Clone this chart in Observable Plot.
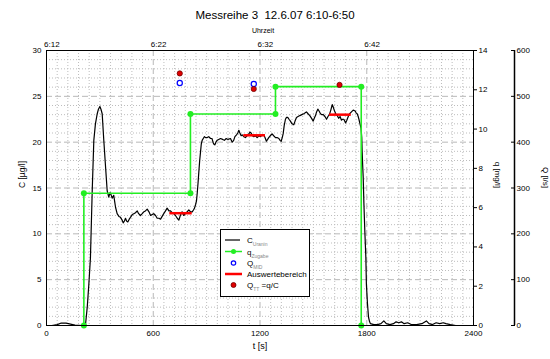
<!DOCTYPE html>
<html><head><meta charset="utf-8">
<script src="https://cdn.jsdelivr.net/npm/d3@7"></script>
<script src="https://cdn.jsdelivr.net/npm/@observablehq/plot@0.6"></script>
<style>
body{margin:0;background:#fff;font-family:"Liberation Sans",Arial,sans-serif;}
#wrap{position:relative;width:550px;height:359px;overflow:hidden;}
#wrap svg{display:block;}
#legend{position:absolute;left:220px;top:229px;}
</style></head><body><div id="wrap"></div>
<script>
const title = "Messreihe 3  12.6.07 6:10-6:50";
const topTitle = "Uhrzeit";
const xLabel = "t [s]", cLabel = "C [µg/l]", qLabel = "q [mg/l]", bigQLabel = "Q [l/s]";

// C_Uranin time series
const timeS = [0,30,60,80,110,135,160,200,219,229,238,247,257,266,275,285,292,300,306,313,322,332,341,350,357,362,369,378,388,397,407,416,425,431,438,444,450,457,465,472,482,491,500,510,518,528,538,547,556,566,576,585,594,603,613,622,632,641,650,659,669,678,688,697,706,716,725,735,744,752,762,771,781,790,800,810,819,826,832,838,843,847,852,856,861,866,870,875,881,888,894,903,912,922,930,936,940,946,952,959,968,978,990,1000,1010,1020,1034,1044,1052,1059,1068,1075,1081,1087,1094,1100,1109,1118,1127,1137,1144,1150,1158,1165,1175,1184,1194,1203,1212,1221,1228,1236,1243,1249,1258,1268,1277,1287,1296,1306,1313,1319,1325,1330,1336,1343,1349,1356,1363,1371,1380,1390,1397,1405,1414,1424,1435,1446,1454,1461,1470,1480,1490,1499,1505,1512,1518,1525,1532,1540,1548,1556,1565,1574,1582,1590,1598,1606,1612,1619,1626,1634,1642,1650,1658,1664,1671,1676,1681,1688,1696,1704,1714,1724,1735,1740,1746,1752,1756,1762,1768,1772,1774,1777,1780,1784,1789,1795,1798,1804,1810,1816,1821,1840,1860,1880,1896,1910,1930,1950,1965,1980,1995,2010,2030,2050,2080,2110,2135,2150,2170,2190,2210,2230,2245,2270,2300];
const cUranin = [0,0,0.1,0.25,0.25,0.15,0.05,0,0.05,2.0,4.5,7.4,14.7,20.2,22.0,23.1,23.6,23.9,23.6,23.1,20.2,17.3,14.7,14.0,14.5,14.3,13.9,14.2,12.9,12.2,11.9,11.8,11.5,11.2,11.4,11.7,11.4,11.3,11.6,11.8,12.1,12.2,12.3,12.5,12.2,12.0,12.2,12.4,12.5,12.7,12.4,12.0,12.1,12.2,12.0,11.7,11.7,11.6,11.9,12.2,12.5,12.8,12.5,12.5,12.3,12.2,12.0,11.7,11.5,12.0,12.4,12.0,12.2,12.4,12.6,12.4,12.4,12.6,12.8,13.2,13.6,14.4,15.6,16.7,18.0,19.0,19.8,20.2,20.4,20.6,20.5,20.5,20.6,20.4,20.4,20.0,19.8,19.7,20.0,20.2,20.3,20.4,20.3,20.2,20.4,20.3,20.4,20.0,20.2,20.6,20.8,21.0,21.3,21.0,20.7,20.8,20.6,20.5,20.7,20.9,21.1,21.0,20.7,20.6,20.7,20.5,20.7,20.6,20.8,20.8,20.5,20.1,20.3,20.5,20.7,20.9,20.7,20.5,20.5,20.4,20.2,20.1,20.5,20.9,21.8,22.5,22.7,22.7,22.5,22.3,22.0,21.9,22.3,22.7,22.8,22.9,23.0,23.1,23.2,23.3,23.1,22.9,22.6,22.3,22.6,22.9,23.3,23.6,23.4,23.1,23.0,23.0,22.8,22.5,22.8,23.0,23.5,24.1,23.8,23.4,23.1,22.9,22.6,22.8,22.4,22.5,22.5,22.3,22.1,22.4,22.8,23.1,23.3,23.5,23.4,23.2,23.1,22.8,22.5,22.0,21.5,20.5,19.1,17.5,16.2,13.3,10.4,7.4,4.5,2.4,0.9,0.4,0.2,0.1,0.1,0.2,0.5,0.2,0.1,0.2,0.4,0.3,0.4,0.2,0.3,0.1,0.1,0.2,0.5,0.2,0.1,0.3,0.2,0.3,0.2,0.1,0];

// q_Zugabe step (mg/l)
const qStepT = [210,210,809,809,1287,1287,1769,1769];
const qStepV = [0,6.73,6.73,10.77,10.77,12.16,12.16,0];

// Auswertebereich (C level over evaluation windows)
const evalStart = [693,1109,1591];
const evalEnd = [819,1231,1713];
const evalC = [12.25,20.75,23.0];

// Discharge points (l/s)
const qPointT = [749,1165,1647];
const qMID = [529,527];
const qTT = [550,516,525];

// ticks
const xTicks = [0,600,1200,1800,2400];
const cTicks = [0,5,10,15,20,25,30];
const qTicks = [0,2,4,6,8,10,12,14];
const bigQTicks = [0,100,200,300,400,500,600];
const topTickT = [30,630,1230,1830];
const topTickLabels = ["6:12","6:22","6:32","6:42"];

const Q2C = 30/14;   // q axis -> C axis
const BQ2C = 30/600; // Q axis -> C axis

const cData = timeS.map((t,i)=>({t, c:cUranin[i]}));
const qData = qStepT.map((t,i)=>({t, q:qStepV[i]*Q2C}));
const evalData = evalStart.map((s,i)=>({s, e:evalEnd[i], c:evalC[i]}));
const midData = qMID.map((v,i)=>({t:qPointT[i], y:v*BQ2C}));
const ttData = qTT.map((v,i)=>({t:qPointT[i], y:v*BQ2C}));

const font = "Liberation Sans, Arial, sans-serif";
const fmt = d3.format("d");
const chart = Plot.plot({
  width: 550, height: 359,
  marginLeft: 46, marginRight: 77, marginTop: 50, marginBottom: 34,
  style: {fontFamily: font, fontSize: "8px", background: "#fff", color: "#000", overflow: "visible"},
  x: {domain: [0,2400]},
  y: {domain: [0,30]},
  marks: [
    Plot.ruleX(d3.range(60,2400,60).filter(v=>v%600), {stroke:"#bdbdbd", strokeDasharray:"1,2"}),
    Plot.ruleY(d3.range(1,30).filter(v=>v%5), {stroke:"#bdbdbd", strokeDasharray:"1,2"}),
    Plot.ruleX([600,1200,1800], {stroke:"#b8b8b8", strokeDasharray:"6,3"}),
    Plot.ruleY([5,10,15,20,25], {stroke:"#b8b8b8", strokeDasharray:"6,3"}),
    Plot.axisX(xTicks, {anchor:"bottom", tickSize:0, tickPadding:5, label:null, fontSize:8, tickFormat: fmt}),
    Plot.axisX(topTickT, {anchor:"top", tickSize:0, tickPadding:4, label:null, fontSize:8,
      tickFormat: d => topTickLabels[topTickT.indexOf(d)]}),
    Plot.axisY(cTicks, {anchor:"left", tickSize:0, tickPadding:5, label:null, fontSize:8, tickFormat: fmt}),
    Plot.axisY(qTicks.map(v=>v*Q2C), {anchor:"right", tickSize:3, tickPadding:2, label:null, fontSize:8,
      tickFormat: d => fmt(Math.round(d/Q2C))}),
    Plot.axisY(bigQTicks.map(v=>v*BQ2C), {anchor:"right", dx:37, tickSize:4, tickPadding:2, label:null, fontSize:8,
      tickFormat: d => fmt(Math.round(d/BQ2C))}),
    Plot.ruleX([2400], {dx:41, stroke:"#000", strokeWidth:1.5}),
    Plot.line(cData, {x:"t", y:"c", stroke:"#000", strokeWidth:1.2}),
    Plot.line(qData, {x:"t", y:"q", stroke:"#22ee22", strokeWidth:1.6}),
    Plot.dot(qData, {x:"t", y:"q", r:3, fill:"#22ee22"}),
    Plot.ruleY(evalData, {x1:"s", x2:"e", y:"c", stroke:"#ff0000", strokeWidth:2.5}),
    Plot.dot(midData, {x:"t", y:"y", r:2.6, stroke:"#0000ff", strokeWidth:1.2, fill:"none"}),
    Plot.dot(ttData, {x:"t", y:"y", r:2.6, fill:"#e00000", stroke:"#700000", strokeWidth:0.8}),
    Plot.frame({stroke:"#000"}),
    Plot.text([title], {frameAnchor:"top", dy:-40, dx:15, fontSize:11.5}),
    Plot.text([topTitle], {frameAnchor:"top", dy:-22, dx:3, fontSize:7}),
    Plot.text([xLabel], {frameAnchor:"bottom", dy:23, fontSize:9}),
    Plot.text([cLabel], {frameAnchor:"left", dx:-24, rotate:-90, fontSize:8.5}),
    Plot.text([qLabel], {frameAnchor:"right", dx:24, rotate:90, fontSize:8}),
    Plot.text([bigQLabel], {frameAnchor:"right", dx:72, rotate:90, fontSize:8})
  ]
});
const wrap = document.getElementById("wrap");
wrap.appendChild(chart);

// Legend
const legendItems = [
  {main:"C", sub:"Uranin", kind:"black"},
  {main:"q", sub:"Zugabe", kind:"green"},
  {main:"Q", sub:"MID", kind:"blue"},
  {main:"Auswertebereich", sub:"", kind:"red"},
  {main:"Q", sub:"TT", tail:" =q/C", kind:"redDot"}
];
const lg = d3.select(wrap).append("svg").attr("id","legend")
  .attr("width",91).attr("height",69).style("font-family",font);
lg.append("rect").attr("x",0.5).attr("y",0.5).attr("width",89).attr("height",67)
  .attr("fill","#fff").attr("stroke","#000");
const rowY = [11,22.5,34,45,56];
legendItems.forEach((it,i)=>{
  const y = rowY[i];
  if (it.kind==="black") lg.append("line").attr("x1",5).attr("x2",20).attr("y1",y).attr("y2",y).attr("stroke","#000").attr("stroke-width",1.2);
  if (it.kind==="green") {
    lg.append("line").attr("x1",5).attr("x2",22).attr("y1",y).attr("y2",y).attr("stroke","#22ee22").attr("stroke-width",1.5);
    lg.append("circle").attr("cx",13.5).attr("cy",y).attr("r",2.5).attr("fill","#22ee22");
  }
  if (it.kind==="blue") lg.append("circle").attr("cx",13.5).attr("cy",y).attr("r",2.2).attr("fill","none").attr("stroke","#0000ff").attr("stroke-width",1.2);
  if (it.kind==="red") lg.append("line").attr("x1",5).attr("x2",22).attr("y1",y).attr("y2",y).attr("stroke","#ff0000").attr("stroke-width",2.5);
  if (it.kind==="redDot") lg.append("circle").attr("cx",13.5).attr("cy",y).attr("r",2.5).attr("fill","#e00000").attr("stroke","#700000").attr("stroke-width",0.8);
  const t = lg.append("text").attr("x",27).attr("y",y+3).attr("font-size",8).attr("fill","#000");
  t.append("tspan").text(it.main);
  if (it.sub) t.append("tspan").attr("dy",3).attr("font-size",5).attr("fill","#888").text(it.sub);
  if (it.tail) t.append("tspan").attr("dy",-3).attr("font-size",8).attr("fill","#000").text(it.tail);
});
</script></body></html>
